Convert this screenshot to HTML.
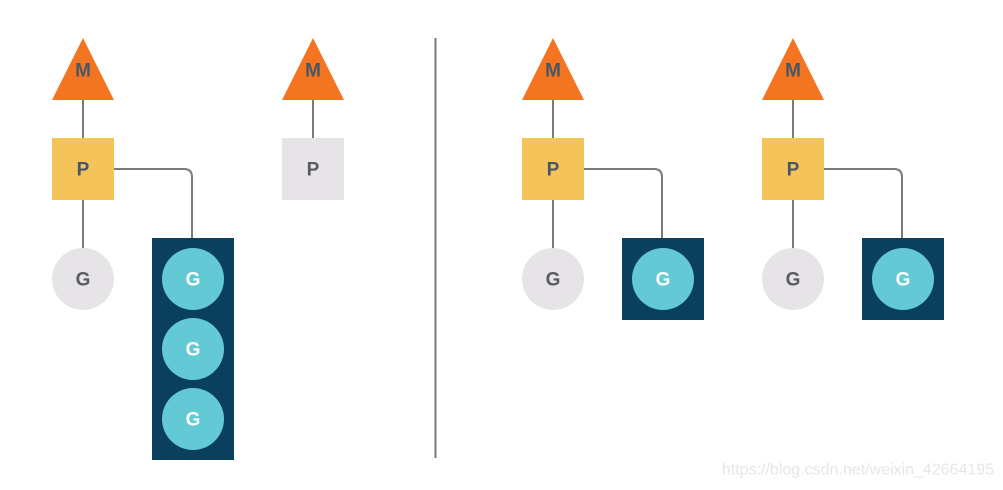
<!DOCTYPE html>
<html><head><meta charset="utf-8"><style>
html,body{margin:0;padding:0;background:#fff;}
svg{display:block;}
text{font-family:"Liberation Sans",sans-serif;font-weight:bold;font-size:19px;text-anchor:middle;dominant-baseline:central;}
</style></head><body>
<svg width="1003" height="490" viewBox="0 0 1003 490" xmlns="http://www.w3.org/2000/svg">
<g stroke="#7b7b7b" stroke-width="2" fill="none">
<line x1="435.5" y1="38" x2="435.5" y2="458"/>
<line x1="83" y1="100" x2="83" y2="250"/>
<path d="M114 169 H184 Q192 169 192 177 V238"/>
<line x1="313" y1="100" x2="313" y2="138"/>
<line x1="553" y1="100" x2="553" y2="250"/>
<path d="M584 169 H654 Q662 169 662 177 V238"/>
<line x1="793" y1="100" x2="793" y2="250"/>
<path d="M824 169 H894 Q902 169 902 177 V238"/>
</g>
<g fill="#f47521">
<polygon points="83,38 52,100 114,100"/>
<polygon points="313,38 282,100 344,100"/>
<polygon points="553,38 522,100 584,100"/>
<polygon points="793,38 762,100 824,100"/>
</g>
<g fill="#4a5668">
<text x="83" y="71">M</text><text x="313" y="71">M</text><text x="553" y="71">M</text><text x="793" y="71">M</text>
</g>
<rect x="52" y="138" width="62" height="62" fill="#f4c45a"/>
<rect x="282" y="138" width="62" height="62" fill="#e7e4e8"/>
<rect x="522" y="138" width="62" height="62" fill="#f4c45a"/>
<rect x="762" y="138" width="62" height="62" fill="#f4c45a"/>
<text x="83" y="170" fill="#4a5668">P</text>
<text x="313" y="170" fill="#5a5a5f">P</text>
<text x="553" y="170" fill="#4a5668">P</text>
<text x="793" y="170" fill="#4a5668">P</text>
<g fill="#e7e4e8"><circle cx="83" cy="279" r="31"/><circle cx="553" cy="279" r="31"/><circle cx="793" cy="279" r="31"/></g>
<g fill="#5a5a5f"><text x="83" y="280">G</text><text x="553" y="280">G</text><text x="793" y="280">G</text></g>
<g fill="#0a405e">
<rect x="152" y="238" width="82" height="222"/>
<rect x="622" y="238" width="82" height="82"/>
<rect x="862" y="238" width="82" height="82"/>
</g>
<g fill="#62c9d5">
<circle cx="193" cy="279" r="31"/><circle cx="193" cy="349" r="31"/><circle cx="193" cy="419" r="31"/>
<circle cx="663" cy="279" r="31"/><circle cx="903" cy="279" r="31"/>
</g>
<g fill="#fff">
<text x="193" y="280">G</text><text x="193" y="350">G</text><text x="193" y="420">G</text>
<text x="663" y="280">G</text><text x="903" y="280">G</text>
</g>
<text x="858" y="470" fill="#e6e6e6" style="font-weight:normal;font-size:16px">https://blog.csdn.net/weixin_42664195</text>
</svg>
</body></html>
